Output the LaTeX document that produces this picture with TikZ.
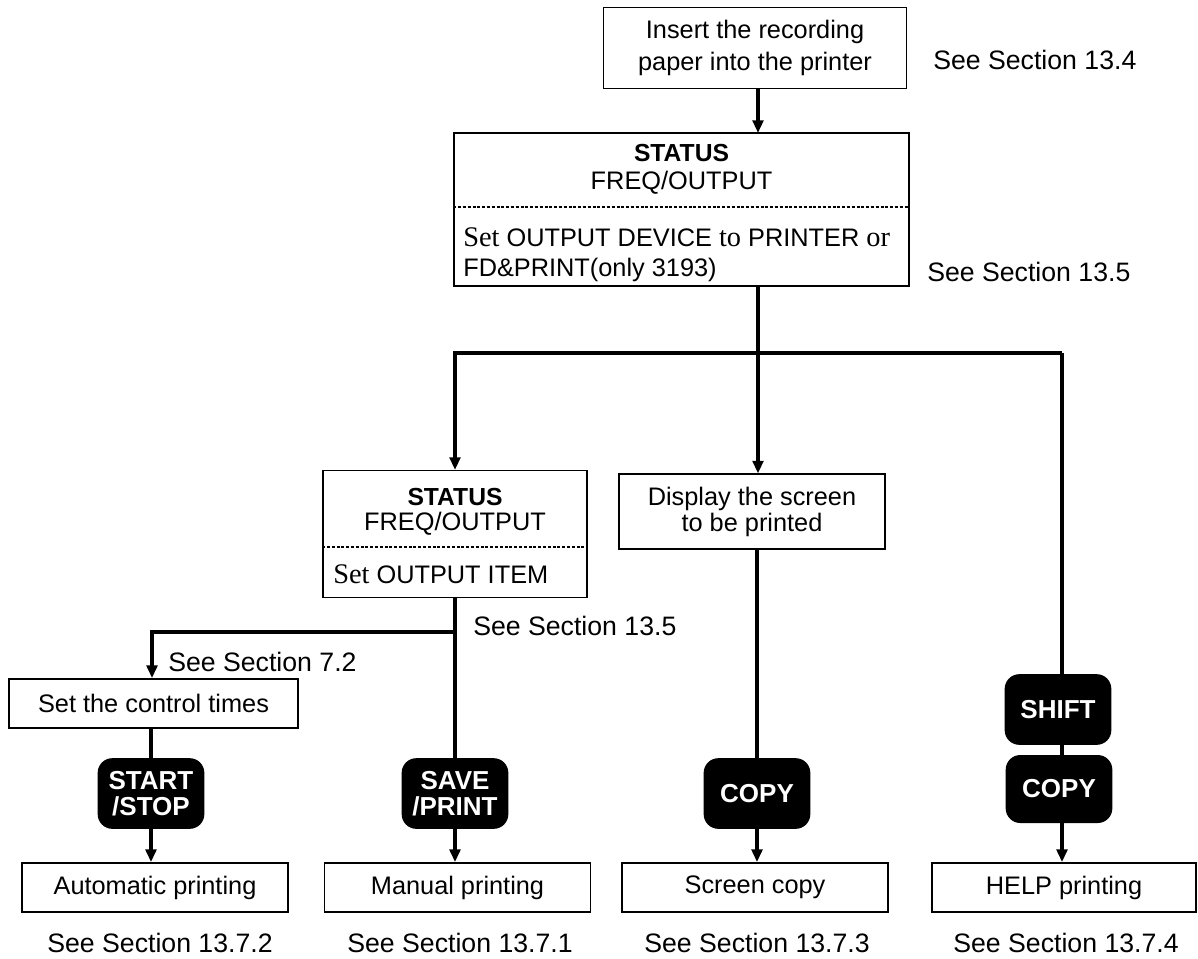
\documentclass[tikz,border=0pt]{standalone}
\usepackage{fontspec}
\setmainfont{Liberation Sans}
\newfontfamily\serifff[Scale=1.12]{Liberation Serif}
\usetikzlibrary{arrows.meta}
\begin{document}
\begin{tikzpicture}[x=0.75pt,y=-0.75pt,
  box/.style={draw,line width=1.1pt,inner sep=0pt,align=center,font=\fontsize{19}{24}\selectfont},
  txt/.style={inner sep=0pt,font=\fontsize{19}{24}\selectfont},
  boldtxt/.style={inner sep=0pt,font=\bfseries\fontsize{18.5}{22}\selectfont},
  key/.style={fill=black,rounded corners=11pt,minimum width=80pt,minimum height=53pt,text=white,
    font=\bfseries\fontsize{19.5}{20}\selectfont,align=center,inner sep=0pt},
  conn/.style={line width=2.4pt},
  arr/.style={conn,-{Triangle[width=8pt,length=9.5pt]}},
  ref/.style={inner sep=0pt,font=\fontsize{20}{24}\selectfont},
  sep/.style={line width=0.8pt,dash pattern=on 2.2pt off 1.4pt}]
\useasboundingbox (0,0) rectangle (1198,958);

% top box
\node[box,minimum width=227pt,minimum height=61pt] (b1) at (755,48) {Insert the recording\\paper into the printer};
\node[ref,anchor=west] (s134) at (933,60) {See Section 13.4};

% status box 1
\node[draw,line width=1.1pt,minimum width=341pt,minimum height=115pt,inner sep=0pt] (b2) at (681.5,209.5) {};
\node[boldtxt] (b2t1) at (681.5,153) {STATUS};
\node[txt] (b2t2) at (681.5,183) {FREQ/OUTPUT};
\draw[sep] (b2.west |- 0,207) -- (b2.east |- 0,207);
\node[txt,anchor=base west] (b2t3) at (463,246) {{\serifff Set} OUTPUT DEVICE {\serifff to} PRINTER {\serifff or}};
\node[txt,anchor=base west] (b2t4) at (463,276) {FD\&PRINT(only 3193)};
\node[ref,anchor=west] (s135a) at (927,272) {See Section 13.5};

\draw[arr] (b1.south -| 758,0) -- (758,133);

% branch
\coordinate (j1) at (758,353);
\coordinate (jl) at (455,353);
\coordinate (jr) at (1062,353);
\draw[conn] (758,286) -- (j1);

% status box 2
\node[draw,line width=1.1pt,minimum width=198pt,minimum height=95pt,inner sep=0pt] (b3) at (455,534) {};
\node[boldtxt] (b3t1) at (455,497) {STATUS};
\node[txt] (b3t2) at (455,524) {FREQ/OUTPUT};
\draw[sep] (b3.west |- 0,547) -- (b3.east |- 0,547);
\node[txt,anchor=west] (b3t3) at (333,574) {{\serifff Set} OUTPUT ITEM};

% display box
\node[box,minimum width=199.5pt,minimum height=56pt,font=\fontsize{19}{19.5}\selectfont] (disp) at (752,511.5) {Display the screen\\to be printed};

\draw[arr] (j1) -- (jl) -- (b3.north);
\draw[arr] (j1) -- (j1 |- disp.north);
\draw[conn] (j1) -- (jr);

% lower left
\coordinate (j2) at (455,632);
\coordinate (jc) at (152,632);
\node[ref,anchor=west] (s135b) at (473,626) {See Section 13.5};
\node[ref,anchor=west] (s72) at (168,662) {See Section 7.2};
\node[box,minimum width=217pt,minimum height=37pt] (ctrl) at (153.5,703.5) {Set the control times};

% keys
\node[key] (k1) at (151,793.5) {START\\/STOP};
\node[key] (k2) at (455,793.5) {SAVE\\/PRINT};
\node[key] (k3) at (757,793.5) {COPY};
\node[key] (k4) at (1058,709.5) {SHIFT};
\node[key,minimum height=51pt] (k5) at (1059,789) {COPY};

% result boxes
\node[box,minimum width=199.5pt,minimum height=37pt] (r1) at (155,887.5) {Automatic printing};
\node[box,minimum width=199.5pt,minimum height=37pt] (r2) at (457.5,887.5) {Manual printing};
\node[box,minimum width=199.5pt,minimum height=37pt] (r3) at (755,887.5) {Screen copy};
\node[box,minimum width=198pt,minimum height=37pt] (r4) at (1064,887.5) {HELP printing};

\node[ref] (s1) at (160,943) {See Section 13.7.2};
\node[ref] (s2) at (460,943) {See Section 13.7.1};
\node[ref] (s3) at (757,943) {See Section 13.7.3};
\node[ref] (s4) at (1066,943) {See Section 13.7.4};

% connectors
\draw[conn] (b3.south) -- (k2.north);
\draw[arr] (j2) -- (jc) -- (jc |- ctrl.north);
\draw[conn] (ctrl.south -| k1.north) -- (k1.north);
\draw[arr] (k1.south) -- (k1.south |- r1.north);
\draw[arr] (k2.south) -- (k2.south |- r2.north);
\draw[conn] (disp.south -| k3.north) -- (k3.north);
\draw[arr] (k3.south) -- (k3.south |- r3.north);
\draw[conn] (jr) -- (jr |- k4.north);
\draw[conn] (k4.south -| jr) -- (k5.north -| jr);
\draw[arr] (k5.south -| jr) -- (jr |- r4.north);
\end{tikzpicture}
\end{document}
